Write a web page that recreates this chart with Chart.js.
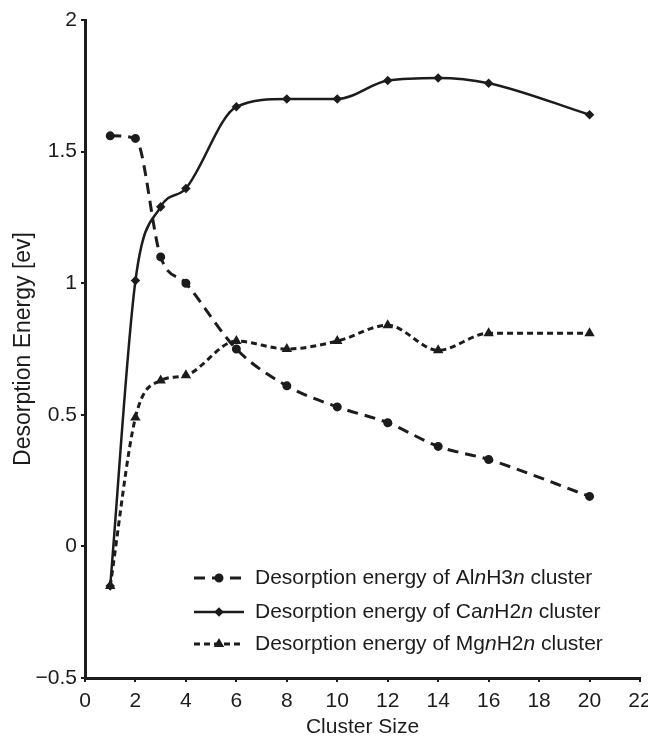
<!DOCTYPE html>
<html>
<head>
<meta charset="utf-8">
<script src="https://cdn.jsdelivr.net/npm/chart.js@4/dist/chart.umd.min.js"></script>
<style>
  html, body { margin: 0; padding: 0; background: #fff; }
  #wrap { width: 648px; height: 740px; position: relative; }
</style>
</head>
<body>
<div id="wrap"><canvas id="chart"></canvas></div>
<script>
// cluster size n
const clusterSizes = [1, 2, 3, 4, 6, 8, 10, 12, 14, 16, 20];

// desorption energies (eV)
const alValues = [1.56, 1.55, 1.10, 1.00, 0.75, 0.61, 0.53, 0.47, 0.38, 0.33, 0.19];
const caValues = [-0.15, 1.01, 1.29, 1.36, 1.67, 1.70, 1.70, 1.77, 1.78, 1.76, 1.64];
const mgValues = [-0.15, 0.49, 0.63, 0.65, 0.78, 0.75, 0.78, 0.84, 0.745, 0.81, 0.81];

const xTicks = [0, 2, 4, 6, 8, 10, 12, 14, 16, 18, 20, 22];
const yTicks = [-0.5, 0, 0.5, 1, 1.5, 2];

// legend text pieces: [text, italic]
const legendParts = [
    [['Desorption energy of Al', false], ['n', true], ['H3', false], ['n', true], [' cluster', false]],
    [['Desorption energy of Ca', false], ['n', true], ['H2', false], ['n', true], [' cluster', false]],
    [['Desorption energy of Mg', false], ['n', true], ['H2', false], ['n', true], [' cluster', false]]
];

const ink = '#1c1c1c';
const fontFamily = '"Liberation Sans", Arial, Helvetica, sans-serif';

function toPoints(values) {
    return clusterSizes.map((x, i) => ({ x: x, y: values[i] }));
}

// Legend drawn inside the plot area, lower right
const innerLegend = {
    id: 'innerLegend',
    afterDraw(chart) {
        const ctx = chart.ctx;
        const rows = [578, 612, 644];
        const x0 = 194, x1 = 244, tx = 255;
        ctx.save();
        chart.data.datasets.forEach((ds, i) => {
            const y = rows[i];
            ctx.strokeStyle = ink;
            ctx.lineWidth = ds.borderWidth;
            ctx.setLineDash(ds.borderDash || []);
            ctx.beginPath();
            ctx.moveTo(x0, y);
            ctx.lineTo(x1, y);
            ctx.stroke();
            ctx.setLineDash([]);
            ctx.fillStyle = ink;
            Chart.helpers.drawPoint(ctx, {
                pointStyle: ds.pointStyle,
                radius: ds.pointRadius,
                rotation: 0,
                borderWidth: 1
            }, (x0 + x1) / 2, y);
            ctx.textBaseline = 'middle';
            let cx = tx;
            legendParts[i].forEach(([text, italic]) => {
                ctx.font = (italic ? 'italic ' : '') + '21px ' + fontFamily;
                ctx.fillText(text, cx, y);
                cx += ctx.measureText(text).width;
            });
        });
        ctx.restore();
    }
};

const ctx = document.getElementById('chart');
new Chart(ctx, {
    type: 'line',
    data: {
        datasets: [{
            label: 'Desorption energy of AlnH3n cluster',
            data: toPoints(alValues),
            borderColor: ink,
            backgroundColor: ink,
            borderWidth: 3,
            borderDash: [11, 7],
            pointStyle: 'circle',
            pointRadius: 3,
            cubicInterpolationMode: 'monotone'
        }, {
            label: 'Desorption energy of CanH2n cluster',
            data: toPoints(caValues),
            borderColor: ink,
            backgroundColor: ink,
            borderWidth: 2.5,
            pointStyle: 'rectRot',
            pointRadius: 3,
            cubicInterpolationMode: 'monotone'
        }, {
            label: 'Desorption energy of MgnH2n cluster',
            data: toPoints(mgValues),
            borderColor: ink,
            backgroundColor: ink,
            borderWidth: 3,
            borderDash: [6, 4],
            pointStyle: 'triangle',
            pointRadius: 3,
            cubicInterpolationMode: 'monotone'
        }]
    },
    options: {
        responsive: true,
        maintainAspectRatio: false,
        animation: false,
        layout: {
            padding: { top: 20, right: 8, bottom: 0, left: 0 }
        },
        plugins: {
            legend: { display: false },
            tooltip: { enabled: false }
        },
        scales: {
            x: {
                type: 'linear',
                min: 0,
                max: 22,
                afterBuildTicks: (scale) => {
                    scale.ticks = xTicks.map(v => ({ value: v }));
                },
                afterFit: (scale) => {
                    scale.paddingRight = 0;
                    scale.height = 62;
                },
                border: { display: true, color: ink, width: 3 },
                grid: { drawOnChartArea: false, drawTicks: true, tickLength: 4, color: ink, lineWidth: 2 },
                ticks: {
                    color: ink,
                    padding: 7,
                    maxRotation: 0,
                    autoSkip: false,
                    font: { family: fontFamily, size: 21 }
                },
                title: {
                    display: true,
                    text: 'Cluster Size',
                    color: ink,
                    padding: { top: 0, bottom: 0 },
                    font: { family: fontFamily, size: 21 }
                }
            },
            y: {
                type: 'linear',
                min: -0.5,
                max: 2,
                afterBuildTicks: (scale) => {
                    scale.ticks = yTicks.map(v => ({ value: v }));
                },
                afterFit: (scale) => {
                    scale.width = 85;
                },
                border: { display: true, color: ink, width: 3 },
                grid: { drawOnChartArea: false, drawTicks: true, tickLength: 4, color: ink, lineWidth: 2 },
                ticks: {
                    color: ink,
                    padding: 4,
                    font: { family: fontFamily, size: 21 },
                    callback: (v) => String(v).replace('-', '\u2212')
                },
                title: {
                    display: true,
                    text: 'Desorption Energy [ev]',
                    color: ink,
                    padding: { top: 10, bottom: 4 },
                    font: { family: fontFamily, size: 23 }
                }
            }
        }
    },
    plugins: [innerLegend]
});
</script>
</body>
</html>
